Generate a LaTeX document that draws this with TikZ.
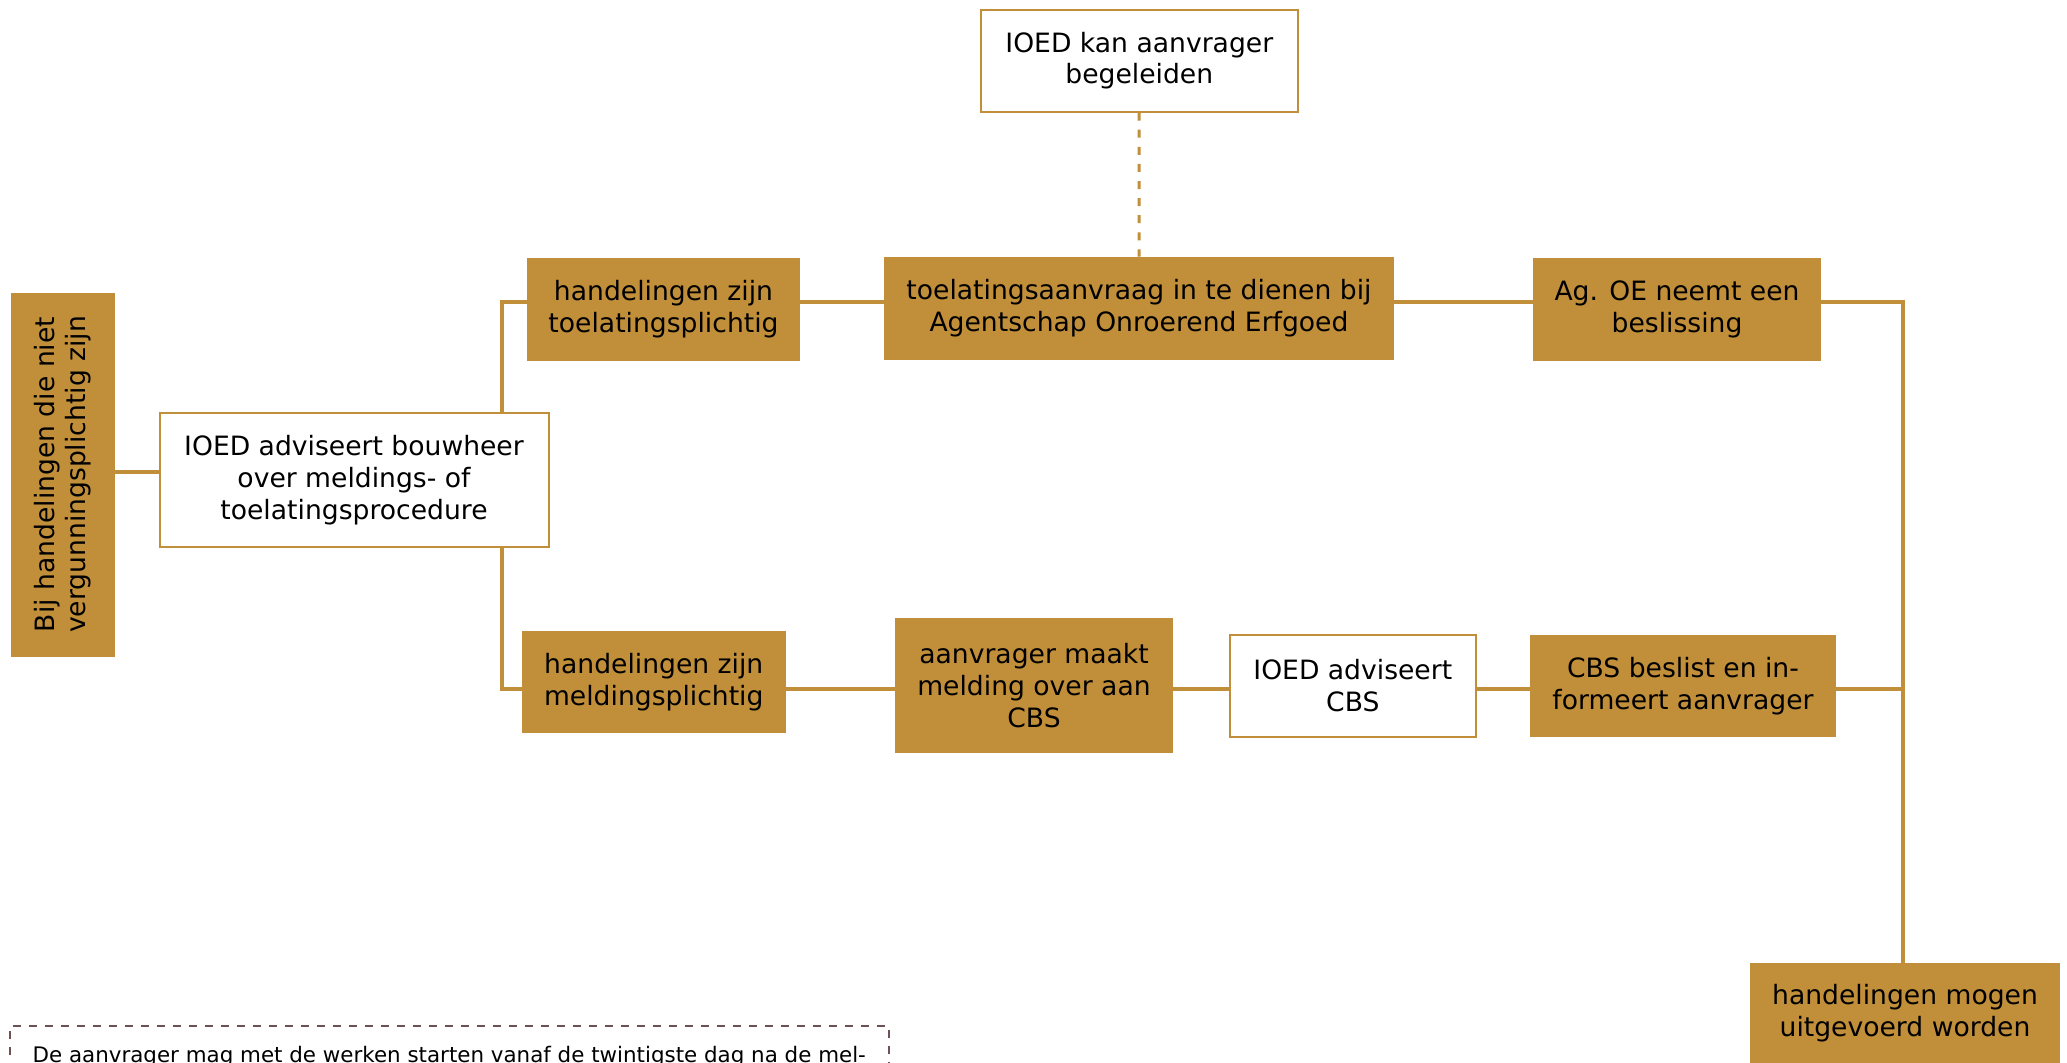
\documentclass[tikz,border=0pt]{standalone}
\usepackage{fontspec}
\setmainfont{DejaVu Sans}
\usepackage{xcolor}
\usetikzlibrary{calc}

\definecolor{goud}{RGB}{193,142,58}
\definecolor{notakleur}{RGB}{110,80,85}

\tikzset{
  vak/.style={fill=goud, align=center, inner sep=2pt, font=\fontsize{13.3}{15.9}\selectfont},
  witvak/.style={draw=goud, line width=1pt, fill=white, align=center, inner sep=2pt, font=\fontsize{13.3}{15.9}\selectfont},
  lijn/.style={goud, line width=2pt},
}

\begin{document}
\begin{tikzpicture}[x=0.5pt,y=-0.5pt]

\useasboundingbox (0,0) rectangle (2067,1062);
\clip (0,0) rectangle (2067,1062);

% Start
\node[vak, rotate=90, minimum width=182pt, minimum height=52pt] (vergunning) at (62.6,474.5) {Bij handelingen die niet\\vergunningsplichtig zijn};
\node[witvak, minimum width=194.5pt, minimum height=67pt] (advies) at (354,480) {IOED adviseert bouwheer\\over meldings- of\\toelatingsprocedure};

% Top row: toelating
\node[witvak, minimum width=158.5pt, minimum height=51pt] (begeleiden) at (1139.3,60.6) {IOED kan aanvrager\\begeleiden};
\node[vak, minimum width=136.5pt, minimum height=51.5pt] (toelplicht) at (663.5,309.5) {handelingen zijn\\toelatingsplichtig};
\node[vak, minimum width=255pt, minimum height=51.5pt] (aanvraag) at (1139,308.5) {toelatingsaanvraag in te dienen bij\\Agentschap Onroerend Erfgoed};
\node[vak, minimum width=144pt, minimum height=51.5pt] (beslissing) at (1677,309.5) {Ag. OE neemt een\\beslissing};

% Bottom row: melding
\node[vak, minimum width=131.75pt, minimum height=51pt] (meldplicht) at (653.75,682) {handelingen zijn\\meldingsplichtig};
\node[vak, minimum width=139pt, minimum height=67.3pt] (melding) at (1034,685.3) {aanvrager maakt\\melding over aan\\CBS};
\node[witvak, minimum width=123pt, minimum height=51pt] (cbsadvies) at (1352.8,685.5) {IOED adviseert\\CBS};
\node[vak, minimum width=153pt, minimum height=51pt] (cbsbeslist) at (1683,686) {CBS beslist en in-\\formeert aanvrager};

% End
\node[vak, minimum width=155pt, minimum height=50pt] (uitvoeren) at (1905,1013) {handelingen mogen\\uitgevoerd worden};

% Note
\node[draw=notakleur, line width=0.8pt, dash pattern=on 4pt off 4pt, anchor=north west,
  minimum width=439.5pt, inner xsep=0pt, inner ysep=10pt,
  font=\fontsize{10.7}{13}\selectfont] (nota) at (9,1025)
  {De aanvrager mag met de werken starten vanaf de twintigste dag na de mel-};

% Junctions
\coordinate (lj) at (130,472);
\coordinate (tl) at (502,302);
\coordinate (bl) at (502,689);
\coordinate (tr) at (1903,302);
\coordinate (br) at (1903,689);

% Connectors
\draw[lijn] (vergunning.south |- lj) -- (advies.west |- lj);
\draw[lijn] (toelplicht.west |- tl) -- (tl) -- (tl |- advies.north);
\draw[lijn] (tl |- advies.south) -- (bl) -- (meldplicht.west |- bl);

\draw[lijn] (toelplicht.east |- tl) -- (aanvraag.west |- tl);
\draw[lijn] (aanvraag.east |- tl) -- (beslissing.west |- tl);
\draw[lijn] (beslissing.east |- tr) -- (tr) -- (tr |- uitvoeren.north);

\draw[lijn] (meldplicht.east |- bl) -- (melding.west |- bl);
\draw[lijn] (melding.east |- bl) -- (cbsadvies.west |- bl);
\draw[lijn] (cbsadvies.east |- bl) -- (cbsbeslist.west |- bl);
\draw[lijn] (cbsbeslist.east |- br) -- (br);

% Guidance (dashed)
\draw[goud, line width=1.5pt, dash pattern=on 4pt off 4.55pt] (begeleiden) -- (aanvraag);

\end{tikzpicture}
\end{document}
